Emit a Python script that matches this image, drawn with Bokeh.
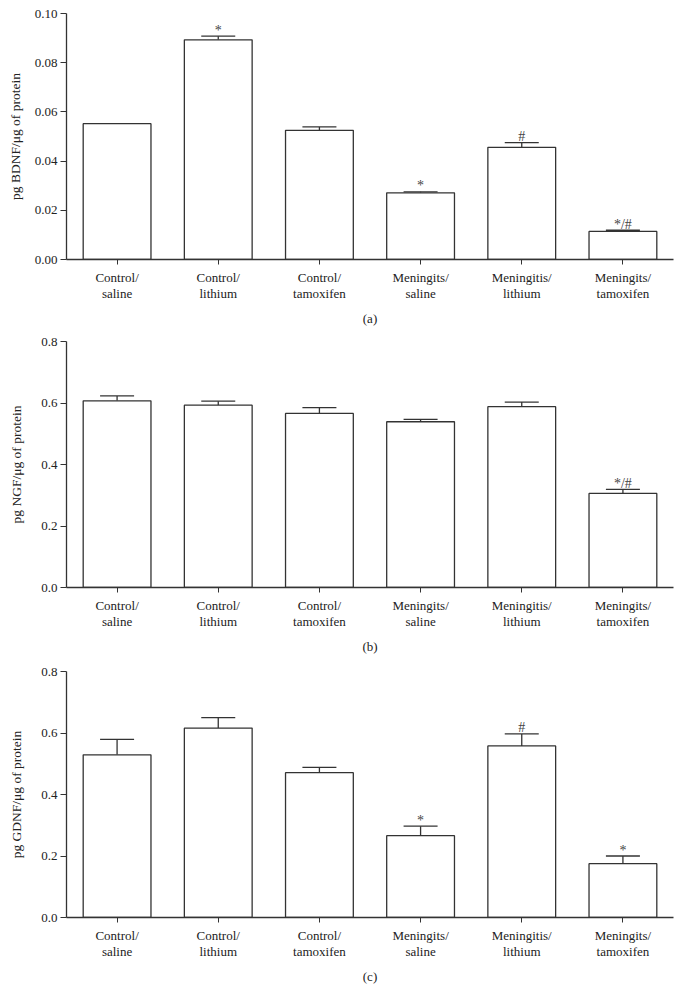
from bokeh.plotting import figure
from bokeh.models import (ColumnDataSource, Range1d, FixedTicker, Whisker, TeeHead,
                          NumeralTickFormatter)
from bokeh.layouts import column
from bokeh.embed import file_html
from bokeh.resources import INLINE
from bokeh.core.properties import value

categories = ["Control/\nsaline", "Control/\nlithium", "Control/\ntamoxifen",
              "Meningits/\nsaline", "Meningitis/\nlithium", "Meningits/\ntamoxifen"]

bdnf = [0.0552, 0.0893, 0.0525, 0.0271, 0.0456, 0.0114]
bdnf_err = [0.0, 0.0015, 0.0014, 0.0004, 0.0019, 0.0005]
bdnf_marks = ["", "*", "", "*", "#", "*/#"]

ngf = [0.607, 0.593, 0.566, 0.539, 0.588, 0.306]
ngf_err = [0.016, 0.013, 0.019, 0.008, 0.015, 0.013]
ngf_marks = ["", "", "", "", "", "*/#"]

gdnf = [0.529, 0.616, 0.471, 0.266, 0.558, 0.175]
gdnf_err = [0.050, 0.034, 0.017, 0.031, 0.039, 0.025]
gdnf_marks = ["", "", "", "*", "#", "*"]

FONT = "Liberation Serif"
INK = "#333333"


def panel(vals, errs, marks, ylabel, ymax, ystep, fmt, letter, height, btop, bbot, lstand):
    n = len(categories)
    xs = list(range(n))
    src = ColumnDataSource(dict(
        x=xs, v=vals, up=[a + b for a, b in zip(vals, errs)], m=marks))
    p = figure(width=674, height=height, output_backend="svg", toolbar_location=None,
               x_range=Range1d(-0.5, n - 0.5), y_range=Range1d(0, ymax),
               min_border_left=66, min_border_right=1,
               min_border_top=btop, min_border_bottom=bbot)
    p.outline_line_color = None
    p.grid.visible = False
    p.background_fill_color = "white"
    p.border_fill_color = "white"

    p.vbar(x="x", top="v", bottom=0, width=0.67, source=src,
           fill_color="white", line_color=INK, line_width=1.3)
    w = Whisker(base="x", upper="up", lower="v", source=src, dimension="height",
                line_color=INK, line_width=1.3,
                upper_head=TeeHead(size=34, line_color=INK, line_width=1.3),
                lower_head=None)
    p.add_layout(w)
    p.text(x="x", y="up", text="m", source=src, text_align="center",
           text_baseline="alphabetic", y_offset=-6, text_font=value(FONT),
           text_font_size="14px", text_color="#444444")

    xa = p.xaxis[0]
    xa.ticker = FixedTicker(ticks=xs)
    xa.major_label_overrides = {i: c for i, c in enumerate(categories)}
    xa.major_tick_out = 5
    xa.major_tick_in = 0
    xa.minor_tick_line_color = None
    xa.axis_line_color = INK
    xa.major_tick_line_color = INK
    xa.axis_line_width = 1.3
    xa.major_label_text_font = FONT
    xa.major_label_text_font_size = "13px"
    xa.major_label_text_color = "#222222"
    xa.major_label_text_line_height = 1.1
    xa.major_label_standoff = 5
    xa.axis_label = letter
    xa.axis_label_text_font = FONT
    xa.axis_label_text_font_size = "13px"
    xa.axis_label_text_font_style = "normal"
    xa.axis_label_text_color = "#222222"
    xa.axis_label_standoff = 7

    ya = p.yaxis[0]
    k = int(round(ymax / ystep))
    ya.ticker = FixedTicker(ticks=[i * ystep for i in range(k + 1)])
    ya.formatter = NumeralTickFormatter(format=fmt)
    ya.major_tick_out = 6
    ya.major_tick_in = 0
    ya.minor_tick_line_color = None
    ya.axis_line_color = INK
    ya.major_tick_line_color = INK
    ya.axis_line_width = 1.3
    ya.major_label_text_font = FONT
    ya.major_label_text_font_size = "13px"
    ya.major_label_text_color = "#222222"
    ya.major_label_standoff = 3
    ya.axis_label = ylabel
    ya.axis_label_text_font = FONT
    ya.axis_label_text_font_size = "13.5px"
    ya.axis_label_text_font_style = "normal"
    ya.axis_label_text_color = "#222222"
    ya.axis_label_standoff = lstand
    return p


pa = panel(bdnf, bdnf_err, bdnf_marks, "pg BDNF/μg of protein", 0.10, 0.02, "0.00",
           "(a)", 330, 13, 71, 9)
pb = panel(ngf, ngf_err, ngf_marks, "pg NGF/μg of protein", 0.8, 0.2, "0.0",
           "(b)", 332, 11, 75, 14)
pc = panel(gdnf, gdnf_err, gdnf_marks, "pg GDNF/μg of protein", 0.8, 0.2, "0.0",
           "(c)", 338, 9, 83, 14)

layout = column(pa, pb, pc, spacing=0)
open("out.html", "w").write(file_html(layout, INLINE))
